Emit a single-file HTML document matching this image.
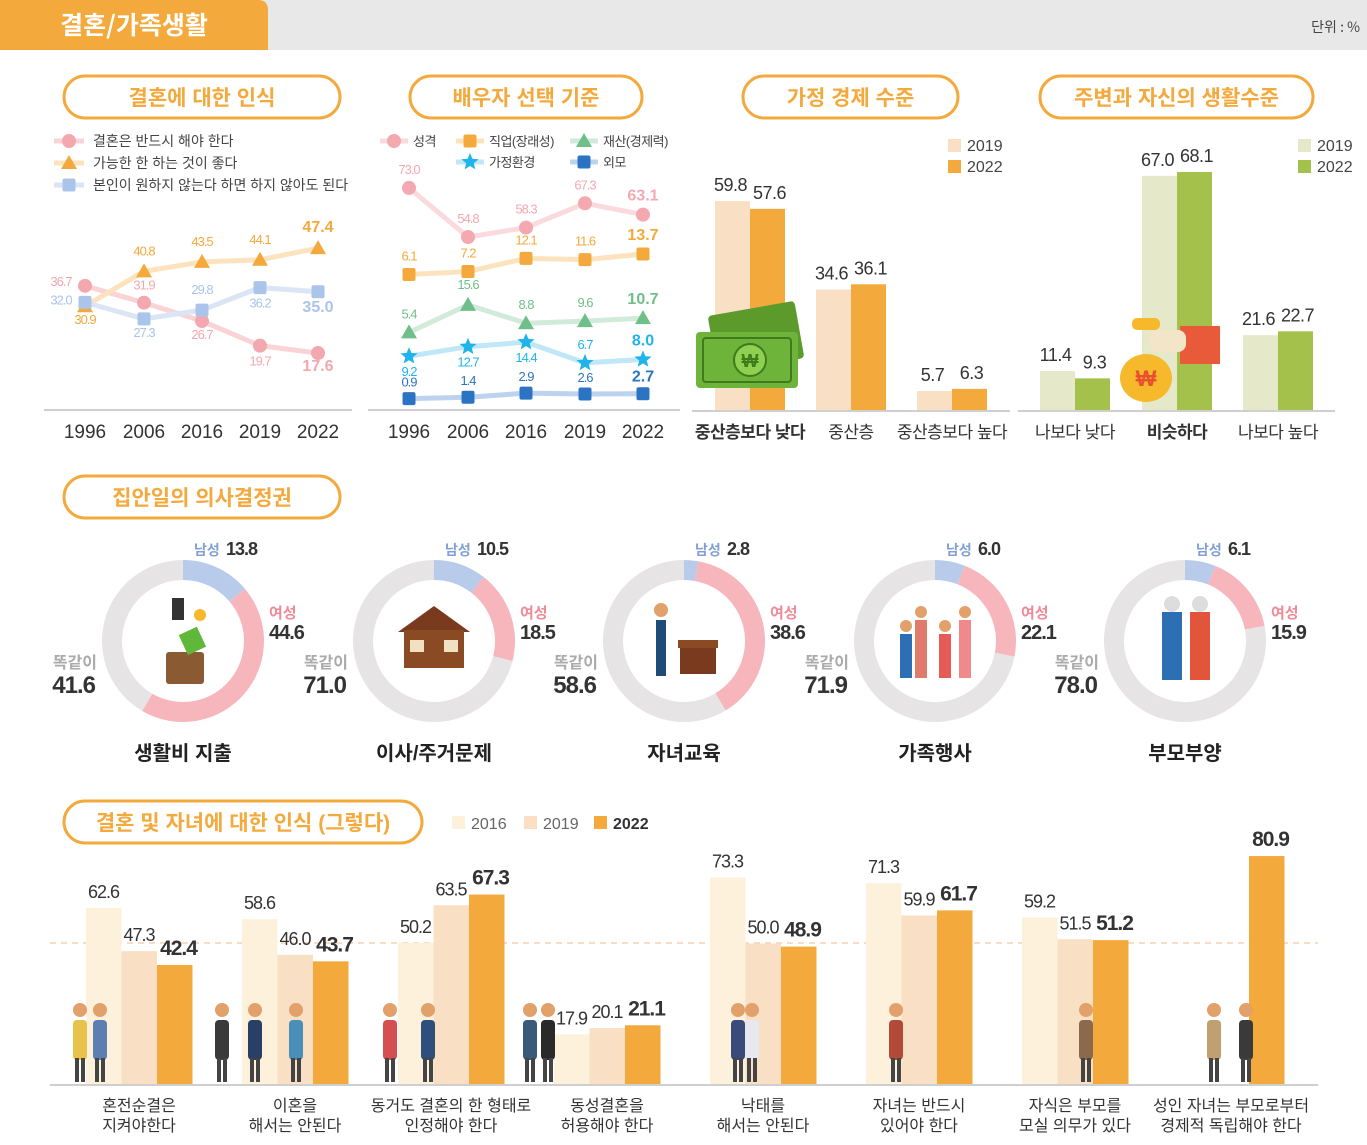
<!DOCTYPE html>
<html><head><meta charset="utf-8">
<style>
html,body{margin:0;padding:0;background:#fff;}
svg{display:block;font-family:"Liberation Sans","Noto Sans CJK KR",sans-serif;}
</style></head>
<body>
<svg id="pg" width="1367" height="1145" viewBox="0 0 1367 1145" xmlns="http://www.w3.org/2000/svg">
<rect x="0" y="0" width="1367" height="50" fill="#e9e8e8"/>
<path d="M0 0 H258 Q268 0 268 10 V50 H0 Z" fill="#f4a93c"/>
<text x="134" y="34" text-anchor="middle" font-size="25" font-weight="bold" fill="#fff" font-family="Noto Sans CJK KR,sans-serif">결혼/가족생활</text>
<text x="1360" y="32" text-anchor="end" font-size="14" fill="#444" font-family="Noto Sans CJK KR,sans-serif">단위 : %</text>
<g id="root"></g>
</svg>
<script>
// ---------- data ----------
const years = ['1996','2006','2016','2019','2022'];
const mustMarry = [36.7,31.9,26.7,19.7,17.6];
const betterMarry = [30.9,40.8,43.5,44.1,47.4];
const optionalMarry = [32.0,27.3,29.8,36.2,35.0];

const spPersonality = [73.0,54.8,58.3,67.3,63.1];
const spJob = [6.1,7.2,12.1,11.6,13.7];
const spWealth = [5.4,15.6,8.8,9.6,10.7];
const spFamily = [9.2,12.7,14.4,6.7,8.0];
const spLooks = [0.9,1.4,2.9,2.6,2.7];

const econCats = ['중산층보다 낮다','중산층','중산층보다 높다'];
const econ2019 = [59.8,34.6,5.7];
const econ2022 = [57.6,36.1,6.3];

const livCats = ['나보다 낮다','비슷하다','나보다 높다'];
const liv2019 = [11.4,67.0,21.6];
const liv2022 = [9.3,68.1,22.7];

const decCats = ['생활비 지출','이사/주거문제','자녀교육','가족행사','부모부양'];
const decMale = [13.8,10.5,2.8,6.0,6.1];
const decFemale = [44.6,18.5,38.6,22.1,15.9];
const decSame = [41.6,71.0,58.6,71.9,78.0];

const percCats = [['혼전순결은','지켜야한다'],['이혼을','해서는 안된다'],['동거도 결혼의 한 형태로','인정해야 한다'],['동성결혼을','허용해야 한다'],['낙태를','해서는 안된다'],['자녀는 반드시','있어야 한다'],['자식은 부모를','모실 의무가 있다'],['성인 자녀는 부모로부터','경제적 독립해야 한다']];
const perc2016 = [62.6,58.6,50.2,17.9,73.3,71.3,59.2,null];
const perc2019 = [47.3,46.0,63.5,20.1,50.0,59.9,51.5,null];
const perc2022 = [42.4,43.7,67.3,21.1,48.9,61.7,51.2,80.9];

// ---------- helpers ----------
const NS='http://www.w3.org/2000/svg';
const root=document.getElementById('root');
function mk(tag,attrs,parent){const e=document.createElementNS(NS,tag);for(const k in attrs)e.setAttribute(k,attrs[k]);(parent||root).appendChild(e);return e;}
function txt(x,y,s,size,fill,opt){opt=opt||{};const e=mk('text',{x:x,y:y,'font-size':size,fill:fill,'text-anchor':opt.anchor||'middle','font-weight':opt.bold?'bold':'normal','font-family':'Liberation Sans, Noto Sans CJK KR, sans-serif','letter-spacing':opt.ls||0},opt.parent);e.textContent=s;return e;}
function pill(x,y,w,h,label,name){const r=mk('rect',{x:x,y:y,width:w,height:h,rx:h/2,fill:'#fff',stroke:'#f4a93c','stroke-width':3});


const t=txt(x+w/2,y+h/2+8,label,21,'#f4a93c',{bold:true});

}
function marker(type,x,y,fill,parent){let e;
 if(type==='circle')e=mk('circle',{cx:x,cy:y,r:7,fill:fill},parent);
 else if(type==='square')e=mk('rect',{x:x-6.5,y:y-6.5,width:13,height:13,rx:2,fill:fill},parent);
 else if(type==='tri')e=mk('polygon',{points:`${x},${y-8} ${x+8},${y+6} ${x-8},${y+6}`,fill:fill},parent);
 else {let p=[];for(let i=0;i<10;i++){const a=-Math.PI/2+i*Math.PI/5,r=i%2?4:9;p.push((x+r*Math.cos(a)).toFixed(1)+','+(y+r*Math.sin(a)).toFixed(1));}e=mk('polygon',{points:p.join(' '),fill:fill},parent);}
 return e;}

// ---------- panel 1: line chart ----------
pill(64,76,276,42,'결혼에 대한 인식','marriage-perception');
const p1x=[85,144,202,260,318];
function p1y(v){return 415-3.52*v;}
const p1series=[
 {d:mustMarry,line:'#fad3d6',mk:'#f3a8b0',tc:'#f3a8b0',type:'circle',name:'must-marry',lbl:'결혼은 반드시 해야 한다',dy:[0,-13,18,20,18],dx:[-24,0,0,0,0]},
 {d:betterMarry,line:'#fce3bd',mk:'#f4a93c',tc:'#f4a93c',type:'tri',name:'better-marry',lbl:'가능한 한 하는 것이 좋다',dy:[18,-16,-16,-16,-16],dx:[0,0,0,0,0]},
 {d:optionalMarry,line:'#dae5f5',mk:'#aac4ea',tc:'#aac4ea',type:'square',name:'optional-marry',lbl:'본인이 원하지 않는다 하면 하지 않아도 된다',dy:[2,18,-16,20,20],dx:[-24,0,0,0,0]}];
p1series.forEach((s,si)=>{
 const ly=141+si*22;
 const g=mk('g',{});
 
 
 mk('line',{x1:54,y1:ly,x2:84,y2:ly,stroke:s.line,'stroke-width':5},g);
 marker(s.type,69,ly,s.mk,g);
 txt(93,ly+5,s.lbl,14,'#444',{anchor:'start',parent:g});
});
p1series.forEach(s=>{
 const g=mk('g',{});
 
 
 mk('polyline',{points:s.d.map((v,i)=>p1x[i]+','+p1y(v)).join(' '),fill:'none',stroke:s.line,'stroke-width':5},g);
 s.d.forEach((v,i)=>{const m=marker(s.type,p1x[i],p1y(v),s.mk,g);
  
  
  const last=i===4;txt(p1x[i]+s.dx[i],p1y(v)+s.dy[i],v.toFixed(1),last?16:13,s.tc,{bold:last,ls:last?0:-1,parent:g});});
});
mk('line',{x1:44,y1:410,x2:352,y2:410,stroke:'#cfcfcf','stroke-width':2});
years.forEach((y,i)=>{const t=txt(p1x[i],438,y,19,'#333');});

// ---------- panel 2 ----------
pill(410,76,232,42,'배우자 선택 기준','spouse-criteria');
const p2x=[409,468,526,585,643];
const SC=2.7;
const p2series=[
 {d:spPersonality,base:385,line:'#fbdadd',mk:'#f4a8b0',tc:'#f4a8b0',type:'circle',name:'personality',lbl:'성격',dy:[-14,-14,-14,-14,-14]},
 {d:spJob,base:291,line:'#fce3bd',mk:'#f4a93c',tc:'#f4a93c',type:'square',name:'job',lbl:'직업(장래성)',dy:[-14,-14,-14,-14,-14]},
 {d:spWealth,base:347,line:'#d2ead9',mk:'#6fbf8a',tc:'#6fbf8a',type:'tri',name:'wealth',lbl:'재산(경제력)',dy:[-14,-16,-14,-14,-14]},
 {d:spFamily,base:381,line:'#bfe7f7',mk:'#20b4ea',tc:'#20b4ea',type:'star',name:'family',lbl:'가정환경',dy:[20,20,20,-14,-14]},
 {d:spLooks,base:401,line:'#bcd2ee',mk:'#2b74c4',tc:'#2b74c4',type:'square',name:'looks',lbl:'외모',dy:[-12,-12,-12,-12,-12]}];
const legPos=[[380,141],[456,141],[570,141],[456,162],[570,162]];
p2series.forEach((s,si)=>{
 const [lx,ly]=legPos[si];
 const g=mk('g',{});
 
 
 mk('line',{x1:lx,y1:ly,x2:lx+28,y2:ly,stroke:s.line,'stroke-width':5},g);
 marker(s.type,lx+14,ly,s.mk,g);
 txt(lx+33,ly+5,s.lbl,13,'#444',{anchor:'start',parent:g,ls:-0.5});
 const gs=mk('g',{});
 
 
 const y=v=>s.base-SC*v;
 mk('polyline',{points:s.d.map((v,i)=>p2x[i]+','+y(v)).join(' '),fill:'none',stroke:s.line,'stroke-width':5},gs);
 s.d.forEach((v,i)=>{const m=marker(s.type,p2x[i],y(v),s.mk,gs);
  
  
  const last=i===4;txt(p2x[i],y(v)+s.dy[i],v.toFixed(1),last?16:13,s.tc,{bold:last,ls:last?0:-1,parent:gs});});
});
mk('line',{x1:368,y1:410,x2:680,y2:410,stroke:'#cfcfcf','stroke-width':2});
years.forEach((y,i)=>{const t=txt(p2x[i],438,y,19,'#333');});

// ---------- panels 3/4 bar charts ----------
function barPanel(o){
 pill(o.px,76,o.pw,42,o.title,o.name);
 const base=411,sc=3.51;
 o.cats.forEach((c,i)=>{
  const x0=o.gx[i];
  [[o.a,o.ca],[o.b,o.cb]].forEach(([arr,col],j)=>{
   const v=arr[i],h=v*sc,x=x0+j*35;
   const r=mk('rect',{x:x,y:base-h,width:35,height:h,fill:col});
   
   
   txt(x+17.5+(j?2:-2),base-h-10,v.toFixed(1),18,'#333',{ls:-0.5});
  });
  const t=txt(x0+35,438,c,17,'#333',{bold:i===o.boldIdx,ls:-0.5});
  
  
 });
 mk('line',{x1:o.ax1,y1:base,x2:o.ax2,y2:base,stroke:'#cfcfcf','stroke-width':2});
 [[o.ca,'2019'],[o.cb,'2022']].forEach(([c,l],k)=>{
  const g=mk('g',{});
  
  
  mk('rect',{x:o.lx,y:139+k*21,width:13,height:13,fill:c},g);
  txt(o.lx+19,151+k*21,l,16,'#444',{anchor:'start',parent:g});
 });
}
barPanel({name:'household-economy',title:'가정 경제 수준',px:743,pw:215,cats:econCats,a:econ2019,b:econ2022,ca:'#f9dfc3',cb:'#f4a93c',gx:[715,816,917],ax1:692,ax2:1010,lx:948,boldIdx:0});
barPanel({name:'living-standard',title:'주변과 자신의 생활수준',px:1040,pw:273,cats:livCats,a:liv2019,b:liv2022,ca:'#e5e9c9',cb:'#a4c14b',gx:[1040,1142,1243],ax1:1018,ax2:1335,lx:1298,boldIdx:1});
// money illustration (in front of bars)
(function(){const g=mk('g',{});
 mk('rect',{x:712,y:308,width:88,height:58,rx:4,fill:'#5c9a2c',transform:'rotate(-10 756 337)'},g);
 mk('rect',{x:696,y:332,width:102,height:56,rx:4,fill:'#6fb43a'},g);
 mk('rect',{x:703,y:338,width:88,height:44,rx:3,fill:'none',stroke:'#3f7a1c','stroke-width':2},g);
 mk('circle',{cx:750,cy:360,r:16,fill:'#8fd050',stroke:'#3f7a1c','stroke-width':2},g);
 txt(750,367,'₩',18,'#3f7a1c',{bold:true,parent:g});})();
(function(){const g=mk('g',{});
 mk('rect',{x:1180,y:326,width:40,height:38,fill:'#e85a3a'},g);
 mk('rect',{x:1150,y:330,width:36,height:22,rx:8,fill:'#f3e6c8'},g);
 mk('ellipse',{cx:1146,cy:378,rx:26,ry:24,fill:'#f6b92c'},g);
 mk('rect',{x:1132,y:318,width:28,height:12,rx:5,fill:'#f6b92c'},g);
 txt(1146,386,'₩',22,'#e8502f',{bold:true,parent:g});})();

// ---------- donuts ----------
pill(64,476,276,42,'집안일의 의사결정권','decision-making');
const dcx=[183,434,684,935,1185],dcy=641,RO=81,RI=61;
function arc(a0,a1,col,parent){const f=a=>[Math.sin(a*2*Math.PI/100),-Math.cos(a*2*Math.PI/100)];
 const [s0,c0]=f(a0),[s1,c1]=f(a1),lg=(a1-a0)>50?1:0;
 return mk('path',{d:`M${dcx[parent.i]+RO*s0},${dcy+RO*c0} A${RO},${RO} 0 ${lg} 1 ${dcx[parent.i]+RO*s1},${dcy+RO*c1} L${dcx[parent.i]+RI*s1},${dcy+RI*c1} A${RI},${RI} 0 ${lg} 0 ${dcx[parent.i]+RI*s0},${dcy+RI*c0} Z`,fill:col},parent.g);}
decCats.forEach((c,i)=>{
 const g=mk('g',{});
 
 
 const m=decMale[i],f=decFemale[i];
 const p={g:g,i:i};
 const a1=arc(0,m,'#b8cbeb',p);
 const a2=arc(m,m+f,'#f6b6bc',p);
 const a3=arc(m+f,100,'#e6e4e5',p);
 const cx=dcx[i];
 txt(cx+11,555,'남성',14,'#7f9fd6',{anchor:'start',bold:true,parent:g});
 txt(cx+43,555,decMale[i].toFixed(1),18,'#333',{anchor:'start',bold:true,parent:g,ls:-1});
 txt(cx+86,618,'여성',15,'#f08a96',{anchor:'start',bold:true,parent:g});
 txt(cx+86,639,decFemale[i].toFixed(1),20,'#333',{anchor:'start',bold:true,parent:g,ls:-1});
 txt(cx-86,668,'똑같이',16,'#aaa',{anchor:'end',bold:true,parent:g});
 txt(cx-88,693,decSame[i].toFixed(1),24,'#333',{anchor:'end',bold:true,parent:g,ls:-1});
 const tt=txt(cx,760,c,20,'#222',{bold:true,parent:g});
 
 
});
// simple center icons
(function(){const g=mk('g',{});
 mk('rect',{x:166,y:652,width:38,height:32,rx:3,fill:'#8a5a32'},g);
 mk('rect',{x:172,y:598,width:12,height:22,fill:'#333'},g);
 mk('rect',{x:182,y:630,width:20,height:22,fill:'#5fb83a',transform:'rotate(-25 192 640)'},g);
 mk('circle',{cx:200,cy:615,r:6,fill:'#f6b92c'},g);
 mk('polygon',{points:'398,632 434,606 470,632',fill:'#7a3a1e'},g);
 mk('rect',{x:404,y:630,width:60,height:38,fill:'#8a4a24'},g);
 mk('rect',{x:410,y:640,width:14,height:12,fill:'#f2e1c0'},g);mk('rect',{x:444,y:640,width:14,height:12,fill:'#f2e1c0'},g);
 mk('rect',{x:678,y:640,width:40,height:8,fill:'#8a4a24'},g);mk('rect',{x:680,y:648,width:36,height:26,fill:'#7a3a1e'},g);
 mk('rect',{x:656,y:620,width:10,height:56,fill:'#1f4b78'},g);mk('circle',{cx:661,cy:610,r:7,fill:'#e2a06a'},g);
 [[905,'#2d6fb3'],[920,'#e07a6a'],[944,'#e65b55'],[964,'#f08a8a']].forEach(([x,c],k)=>{mk('rect',{x:x-5,y:620+(k%2?0:14),width:12,height:58-(k%2?0:14),fill:c},g);mk('circle',{cx:x+1,cy:612+(k%2?0:14),r:6,fill:'#e2a06a'},g);});
 mk('rect',{x:1162,y:612,width:20,height:68,fill:'#2d6fb3'},g);mk('circle',{cx:1172,cy:604,r:8,fill:'#ddd'},g);
 mk('rect',{x:1190,y:612,width:20,height:68,fill:'#e2553a'},g);mk('circle',{cx:1200,cy:604,r:8,fill:'#ddd'},g);
})();

// ---------- bottom bar chart ----------
pill(64,801,358,42,'결혼 및 자녀에 대한 인식 (그렇다)','marriage-children');
[['#fdf1dc','2016',false],['#f9dfc3','2019',false],['#f4a93c','2022',true]].forEach(([c,l,b],k)=>{
 const x=[452,524,594][k];
 const g=mk('g',{});
 
 
 mk('rect',{x:x,y:816,width:13,height:13,fill:c},g);
 txt(x+19,829,l,16,b?'#333':'#666',{anchor:'start',bold:b,parent:g});
});
const bBase=1085,bSc=2.83,gStart=[86,242,398,554,710,866,1022,1178];
mk('line',{x1:50,y1:943,x2:1318,y2:943,stroke:'#f2d2b4','stroke-width':1.5,'stroke-dasharray':'6 5'});
percCats.forEach((c,i)=>{
 [[perc2016,'#fdf1dc','2016'],[perc2019,'#f9dfc3','2019'],[perc2022,'#f4a93c','2022']].forEach(([arr,col,yr],j)=>{
  const v=arr[i];if(v===null)return;
  const h=v*bSc,x=gStart[i]+j*35.5;
  const r=mk('rect',{x:x,y:bBase-h,width:35.5,height:h,fill:col});
  
  
  const last=j===2;
  txt(x+17.5+(last?4:0),bBase-h-10,v.toFixed(1),last?21:18,'#333',{bold:last,ls:-1});
 });
 const cx=gStart[i]+53;
 const t=txt(cx,1111,c[0],16,'#333');
 
 
 txt(cx,1131,c[1],16,'#333');
});
mk('line',{x1:50,y1:1085,x2:1318,y2:1085,stroke:'#cfcfcf','stroke-width':2});
// simple people illustrations
(function(){const g=mk('g',{});
 const ppl=[[80,'#e8c24a'],[100,'#5a7fb0'],[222,'#3a3a3a'],[255,'#2a3f66'],[296,'#4a8fb8'],[390,'#d45050'],[428,'#2d4f7a'],[530,'#3a5a7a'],[548,'#2a2a2a'],[738,'#3a4a7a'],[752,'#e8e8f0'],[896,'#b24a3a'],[1086,'#8a6a4a'],[1214,'#c0a070'],[1246,'#3a3a3a']];
 ppl.forEach(([x,c])=>{mk('rect',{x:x-7,y:1020,width:14,height:40,rx:4,fill:c},g);mk('circle',{cx:x,cy:1010,r:7,fill:'#e2a06a'},g);mk('rect',{x:x-5,y:1058,width:4,height:24,fill:'#444'},g);mk('rect',{x:x+1,y:1058,width:4,height:24,fill:'#444'},g);});
})();
</script>
</body></html>
